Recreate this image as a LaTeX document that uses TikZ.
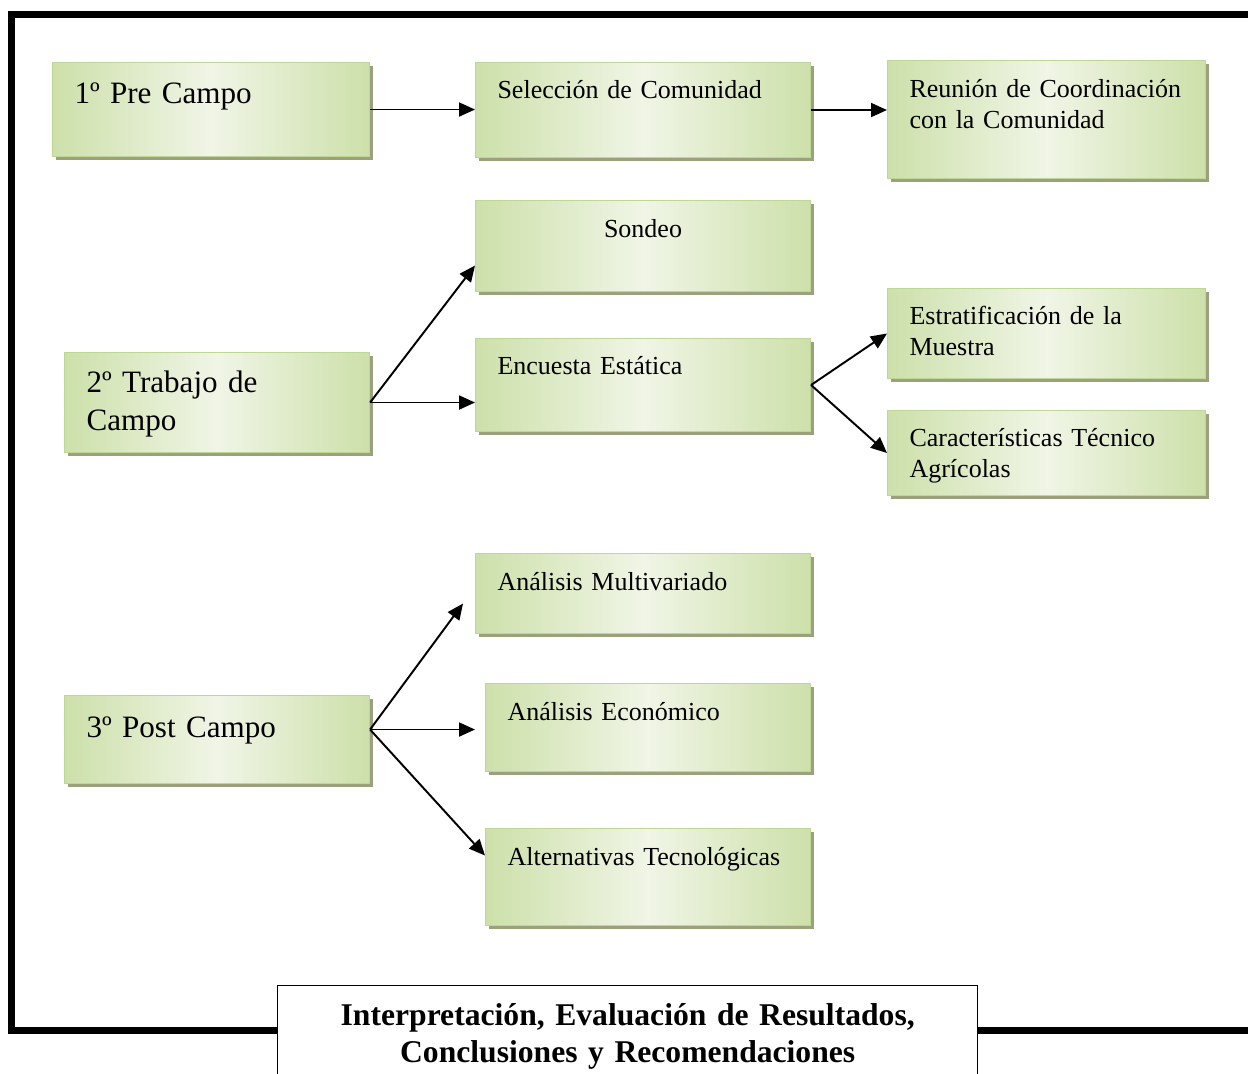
\documentclass[tikz,border=0pt]{standalone}
\usepackage{fontspec}
\setmainfont{Liberation Serif}
\usetikzlibrary{arrows.meta,shadows}

\definecolor{verdeclaro}{RGB}{240,245,230}
\definecolor{verdemedio}{RGB}{205,224,170}
\definecolor{bordeverde}{RGB}{190,215,150}
\definecolor{sombra}{RGB}{155,160,125}

\tikzset{
  caja/.style={draw=bordeverde, line width=0.6pt, anchor=north west,
    left color=verdemedio, right color=verdemedio, middle color=verdeclaro,
    drop shadow={shadow xshift=0.06cm, shadow yshift=-0.06cm, fill=sombra, opacity=1},
    inner xsep=0.44cm, inner ysep=0pt, align=left, text height=0.72cm,
    font=\fontsize{14.8}{17.8}\selectfont},
  etapa/.style={caja, text height=0.82cm, font=\fontsize{17.7}{21.5}\selectfont},
  flecha/.style={-{Triangle[length=0.32cm,width=0.28cm]}, line width=1.1pt},
}

\begin{document}
\begin{tikzpicture}
\useasboundingbox (0,0) rectangle (24.96,-21.48);
% marco
\draw[line width=0.14cm] (0.23,-0.3) rectangle (25.5,-20.6);

% 1 pre campo
\node[etapa, text width=5.46cm, text depth=1.06cm] (pre) at (1.04,-1.24) {1º Pre Campo};
\node[caja, text width=5.82cm, text depth=1.18cm] (sel) at (9.5,-1.24) {Selección de Comunidad};
\node[caja, text width=5.48cm, text height=0.74cm, text depth=1.62cm] (reunion) at (17.74,-1.2) {Reunión de Coordinación\\con la Comunidad};

% 2 trabajo de campo
\node[etapa, text width=5.22cm, text height=0.8cm, text depth=1.2cm] (trabajo) at (1.28,-7.04) {2º Trabajo de\\Campo};
\node[caja, align=center, text width=5.82cm, text height=0.74cm, text depth=1.08cm] (sondeo) at (9.5,-4.0) {Sondeo};
\node[caja, text width=5.82cm, text depth=1.14cm] (encuesta) at (9.5,-6.76) {Encuesta Estática};
\node[caja, text width=5.48cm, text depth=1.08cm] (estrat) at (17.74,-5.76) {Estratificación de la\\Muestra};
\node[caja, text width=5.48cm, text depth=0.98cm] (caract) at (17.74,-8.2) {Características Técnico\\Agrícolas};

% 3 post campo
\node[etapa, text width=5.22cm, text height=0.84cm, text depth=0.92cm] (post) at (1.28,-13.9) {3º Post Campo};
\node[caja, text width=5.82cm, text height=0.74cm, text depth=0.86cm] (multi) at (9.5,-11.06) {Análisis Multivariado};
\node[caja, text width=5.62cm, text height=0.74cm, text depth=1.02cm] (eco) at (9.7,-13.66) {Análisis Económico};
\node[caja, text width=5.62cm, text height=0.74cm, text depth=1.2cm] (alt) at (9.7,-16.56) {Alternativas Tecnológicas};

% resultado final
\node[draw, fill=white, line width=0.8pt, anchor=north west, inner sep=0pt,
  text width=14cm, align=center, text height=0.8cm, text depth=1.6cm,
  font=\bfseries\fontsize{18}{21}\selectfont] (final) at (5.54,-19.7)
  {Interpretación, Evaluación de Resultados,\\Conclusiones y Recomendaciones};

% flechas
\draw[flecha] (pre.east) -- (pre.east -| sel.west);
\draw[flecha] (sel.east) -- (sel.east -| reunion.west);
\draw[flecha] (trabajo.east) -- ([yshift=-0.39cm]sondeo.west);
\draw[flecha] (trabajo.east) -- (trabajo.east -| encuesta.west);
\draw[flecha] (encuesta.east) -- (estrat.west);
\draw[flecha] (encuesta.east) -- (caract.west);
\coordinate (p0) at ([yshift=0.2cm]post.east);
\draw[flecha] (p0) -- ([xshift=-0.24cm,yshift=-0.2cm]multi.west);
\draw[flecha] (p0) -- ([xshift=-0.2cm]eco.west |- p0);
\draw[flecha] (p0) -- ([yshift=0.43cm]alt.west);
\end{tikzpicture}
\end{document}
